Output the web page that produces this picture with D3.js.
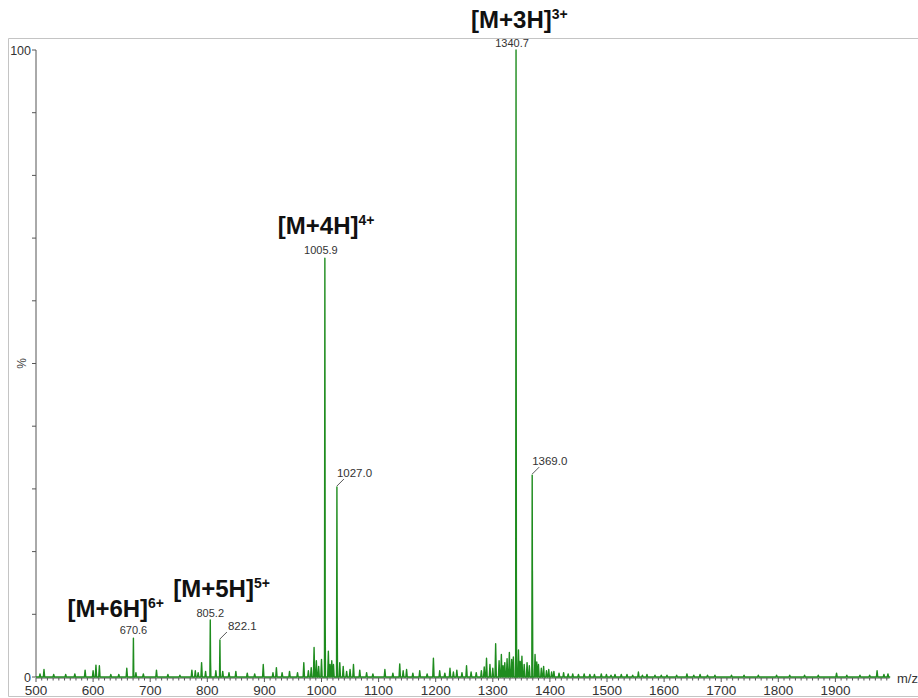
<!DOCTYPE html>
<html>
<head>
<meta charset="utf-8">
<script src="https://cdn.jsdelivr.net/npm/d3@7"></script>
<style>
  body { margin: 0; background: #fff; }
  svg { display: block; font-family: "Liberation Sans", Arial, sans-serif; }
</style>
</head>
<body>
<div id="chart"></div>
<script>
// main labelled peaks: m/z and relative intensity (%)
const peakMz = [670.6, 805.2, 822.1, 1005.9, 1027.0, 1340.7, 1369.0];
const peakPct = [6.2, 9.1, 5.9, 66.8, 30.3, 100, 32.2];

// charge-state annotations
const ionText = ["[M+6H]", "[M+5H]", "[M+4H]", "[M+3H]"];
const ionCharge = ["6+", "5+", "4+", "3+"];
const ionPeak = [670.6, 805.2, 1005.9, 1340.7];

// shoulders / isotope lines beside the big peaks
const shoulderMz = [1006.3, 1027.4, 1341.1, 1369.4, 805.6];
const shoulderPct = [12, 11, 22, 17, 3];

// baseline noise
const noiseMz = [507, 514, 531, 552, 568, 586, 600, 605, 611, 631, 645, 659, 675, 688, 711, 731, 752, 773, 779, 784, 790, 797, 815, 827, 838, 850, 870, 883, 898, 915, 921, 931, 944, 958, 969, 977, 982, 987, 991, 995, 1000, 1012, 1015, 1018, 1021, 1032, 1038, 1044, 1050, 1056, 1067, 1079, 1090, 1111, 1125, 1137, 1143, 1149, 1160, 1172, 1185, 1196, 1207, 1216, 1225, 1231, 1237, 1246, 1254, 1262, 1271, 1280, 1285, 1289, 1295, 1300, 1305, 1311, 1315, 1318, 1321, 1325, 1329, 1333, 1336, 1345, 1348, 1351, 1355, 1360, 1364, 1374, 1377, 1380, 1385, 1389, 1394, 1398, 1403, 1407, 1416, 1424, 1432, 1440, 1450, 1460, 1470, 1478, 1490, 1499, 1507, 1514, 1525, 1535, 1545, 1555, 1562, 1570, 1584, 1595, 1605, 1622, 1640, 1652, 1663, 1676, 1689, 1718, 1740, 1765, 1797, 1820, 1846, 1870, 1902, 1920, 1943, 1960, 1973, 1985, 1992];
const noisePct = [0.5, 1.2, 0.4, 0.4, 0.5, 1.1, 1.0, 1.9, 1.8, 0.4, 0.4, 1.4, 0.7, 0.5, 1.1, 0.4, 0.3, 1.1, 1.0, 0.7, 2.3, 0.9, 1.0, 0.9, 0.7, 0.9, 0.6, 0.5, 2.0, 0.7, 1.5, 0.7, 0.9, 0.7, 2.3, 1.0, 1.5, 4.7, 2.6, 1.7, 2.8, 4.1, 2.0, 2.6, 2.0, 2.3, 1.7, 0.9, 1.2, 2.0, 1.1, 0.7, 0.5, 1.2, 0.6, 2.1, 1.0, 1.2, 0.6, 1.0, 0.5, 3.0, 1.0, 0.6, 1.4, 0.8, 1.1, 0.7, 1.8, 0.8, 0.7, 1.0, 1.6, 3.0, 2.0, 1.4, 5.3, 2.6, 3.6, 1.8, 2.3, 2.9, 3.9, 2.8, 3.2, 4.3, 2.5, 3.3, 2.0, 2.3, 1.8, 3.6, 2.4, 2.0, 1.4, 1.7, 1.0, 1.2, 0.8, 0.9, 0.6, 0.7, 0.5, 0.5, 0.4, 0.5, 0.4, 0.4, 0.5, 0.4, 0.3, 0.4, 0.4, 0.4, 0.3, 0.8, 0.3, 0.4, 0.3, 0.3, 0.3, 0.3, 0.5, 0.3, 0.4, 0.3, 0.3, 0.3, 0.3, 0.3, 0.3, 0.3, 0.3, 0.3, 0.6, 0.3, 0.3, 0.3, 1.0, 0.4, 0.5];

const xTicks = [500, 600, 700, 800, 900, 1000, 1100, 1200, 1300, 1400, 1500, 1600, 1700, 1800, 1900];
const yTickLabels = [0, 100];

const W = 918, H = 698;
const svg = d3.select("#chart").append("svg").attr("width", W).attr("height", H);

// frame
svg.append("path")
  .attr("d", "M918,38.5 H8.5 V696.5 H918")
  .attr("fill", "none").attr("stroke", "#c4c4c4").attr("stroke-width", 1);

const x = d3.scaleLinear().domain([500, 2000]).range([36, 892.5]);
const y = d3.scaleLinear().domain([0, 100]).range([677, 50]);

// x axis: major ticks every 100, minor every 10
const minor = d3.range(500, 2000, 10);
const gx = svg.append("g").attr("transform", "translate(0,678)");
gx.append("line").attr("x1", x(500)).attr("x2", x(1995)).attr("stroke", "#555");
gx.selectAll("line.mt").data(minor).enter().append("line")
  .attr("class", "mt")
  .attr("x1", d => x(d)).attr("x2", d => x(d))
  .attr("y1", 0).attr("y2", d => d % 100 === 0 ? 4 : 2.5)
  .attr("stroke", "#555");
gx.selectAll("text").data(xTicks).enter().append("text")
  .attr("x", d => x(d)).attr("y", 17)
  .attr("text-anchor", "middle").attr("font-size", 13.5).attr("fill", "#333")
  .text(d => d);
svg.append("text").attr("x", 897).attr("y", 683)
  .attr("font-size", 13).attr("fill", "#333").text("m/z");

// y axis
const gy = svg.append("g").attr("transform", "translate(36,0)");
gy.append("line").attr("y1", y(100)).attr("y2", y(0)).attr("stroke", "#555");
gy.selectAll("line.t").data(d3.range(0, 101, 10)).enter().append("line")
  .attr("class", "t")
  .attr("x1", -4).attr("x2", 0)
  .attr("y1", d => y(d)).attr("y2", d => y(d))
  .attr("stroke", "#555");
gy.selectAll("text").data(yTickLabels).enter().append("text")
  .attr("x", -5).attr("y", d => y(d) + 4.5)
  .attr("text-anchor", "end").attr("font-size", 12.5).attr("fill", "#333")
  .text(d => d);
svg.append("text")
  .attr("transform", "translate(26," + y(50) + ") rotate(-90)")
  .attr("text-anchor", "middle").attr("font-size", 12).attr("fill", "#444")
  .text("%");

// spectrum trace
const sticks = [];
peakMz.forEach((m, i) => sticks.push([m, peakPct[i], 0.7]));
shoulderMz.forEach((m, i) => sticks.push([m, shoulderPct[i], 0.7]));
noiseMz.forEach((m, i) => sticks.push([m, noisePct[i], 1.2]));
sticks.sort((a, b) => a[0] - b[0]);

const pts = [[500, 0]];
sticks.forEach(([m, h, w]) => {
  pts.push([m - w, 0], [m, h], [m + w, 0]);
});
pts.push([1996, 0]);

const line = d3.line().x(d => x(d[0])).y(d => y(d[1]));
svg.append("path")
  .attr("d", line(pts))
  .attr("fill", "none")
  .attr("stroke", "#1e8c1e")
  .attr("stroke-width", 1.4)
  .attr("stroke-linejoin", "round");

// peak value labels
const leaderShift = { 822.1: 8, 1027.0: 0, 1369.0: 0 };
const centerShift = { 670.6: [0, -4], 805.2: [0, -3], 1005.9: [-4, -4], 1340.7: [-4, -3] };
peakMz.forEach((m, i) => {
  const px = x(m), py = y(peakPct[i]);
  if (m in leaderShift) {
    svg.append("line")
      .attr("x1", px).attr("y1", py - 1)
      .attr("x2", px + 7).attr("y2", py - 8)
      .attr("stroke", "#444").attr("stroke-width", 0.9);
    svg.append("text")
      .attr("x", px + leaderShift[m]).attr("y", py - 10)
      .attr("font-size", 11.5).attr("fill", "#333")
      .text(m.toFixed(1));
  } else {
    const s = centerShift[m];
    svg.append("text")
      .attr("x", px + s[0]).attr("y", py + s[1])
      .attr("text-anchor", "middle")
      .attr("font-size", 11).attr("fill", "#333")
      .text(m.toFixed(1));
  }
});

// charge-state annotations; offsets (px) from peak top
const ionOffset = { 670.6: [-66, -21], 805.2: [-37, -23], 1005.9: [-47, -24], 1340.7: [-45, -22] };
ionText.forEach((t, i) => {
  const m = ionPeak[i];
  const h = peakPct[peakMz.indexOf(m)];
  const o = ionOffset[m];
  const txt = svg.append("text")
    .attr("x", x(m) + o[0]).attr("y", y(h) + o[1])
    .attr("font-size", 24).attr("font-weight", "bold").attr("fill", "#111");
  txt.append("tspan").text(t);
  txt.append("tspan").attr("dy", -9).attr("font-size", 14).text(ionCharge[i]);
});
</script>
</body>
</html>
